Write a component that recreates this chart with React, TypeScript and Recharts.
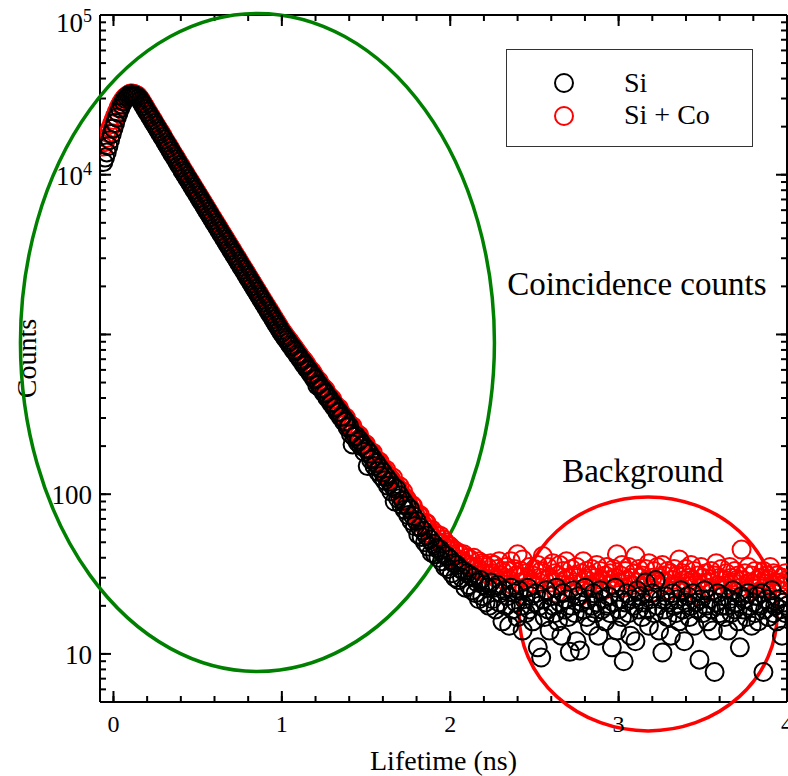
import { Legend, ReferenceDot, Scatter, ScatterChart, XAxis, YAxis } from 'recharts'

const FONT = '"Liberation Serif", "Times New Roman", serif'

// channel grid of the lifetime histogram (ns)
const T0 = -0.06
const DT = 0.01

const seriesNames = ['Si', 'Si + Co']
const seriesColors = ['#000000', '#ff0000']

// counts per channel (t = -0.06 ... 4.00)
const siCounts = [
  12000, 12800, 13800, 15100, 16500, 18000, 19500, 21100, 22800, 24400,
  26000, 27500, 28800, 29900, 30800, 31400, 31800, 31900, 31600, 31300,
  30900, 30100, 29200, 28000, 26900, 25800, 24800, 23800, 22900, 22000,
  21100, 20300, 19500, 18700, 18000, 17300, 16600, 15900, 15300, 14700,
  14100, 13500, 13000, 12500, 12000, 11500, 11100, 10600, 10200, 9830,
  9450, 9080, 8730, 8390, 8065, 7750, 7450, 7160, 6880, 6610,
  6350, 6110, 5870, 5640, 5420, 5210, 5005, 4810, 4620, 4440,
  4270, 4100, 3945, 3790, 3645, 3500, 3365, 3235, 3110, 2990,
  2870, 2760, 2650, 2550, 2450, 2355, 2262, 2175, 2090, 2010,
  1930, 1855, 1782, 1713, 1647, 1583, 1520, 1461, 1405, 1350,
  1297, 1247, 1198, 1151, 1107, 1064, 1022, 988, 955, 923,
  893, 858, 840, 801, 785, 748, 731, 700, 685, 652,
  640, 610, 598, 570, 560, 530, 524, 480, 488, 462,
  458, 432, 428, 402, 400, 376, 374, 352, 349, 326,
  327, 305, 306, 284, 286, 262, 266, 238, 205, 228,
  232, 212, 219, 200, 204, 184, 192, 150, 180, 164,
  168, 150, 157, 139, 146, 130, 137, 122, 128, 113,
  120, 104, 112, 90, 108, 94, 98, 86, 91, 80,
  85, 74, 81, 68, 73, 63, 68, 56, 62, 54,
  59, 50, 55, 47, 52, 43, 49, 42, 46, 40,
  45, 38, 42, 35, 41, 34, 39, 32, 37, 30,
  36, 29, 34, 30, 33, 26, 32, 27, 31, 25,
  30, 24, 28, 22, 29, 23, 27, 21, 26, 20,
  28, 22, 26, 19, 27, 21, 24, 16, 25, 20,
  23, 15, 26, 19, 24, 21, 17, 25, 20, 14,
  22, 18, 26, 19, 23, 16, 21, 24, 11, 20,
  9.5, 22, 17, 25, 19, 14, 23, 20, 18, 26,
  16, 21, 13, 24, 19, 22, 17, 10.3, 20, 25,
  18, 12, 23, 10.5, 21, 19, 26, 17, 22, 15,
  20, 24, 18, 21, 13, 25, 19, 22, 16, 20,
  23, 18, 11, 21, 26, 14, 19, 22, 17, 9,
  21, 24, 18, 13, 22, 20, 12, 25, 19, 23,
  17, 21, 28, 19, 15, 22, 24, 18, 29, 20,
  14, 22, 10.2, 19, 23, 17, 21, 13, 24, 20,
  18, 22, 16, 25, 19, 12, 21, 23, 17, 20,
  24, 15, 21, 19, 9.2, 22, 18, 25, 20, 16,
  22, 19, 14, 7.7, 21, 24, 18, 20, 23, 17,
  20, 14, 22, 18, 25, 19, 21, 16, 11, 23,
  19, 22, 17, 24, 20, 15, 21, 18, 23, 16,
  20, 24, 7.7, 19, 22, 17, 21, 25, 18, 20,
  16, 22, 19, 13, 21, 18, 20,
]

const siCoCounts = [
  15000, 16000, 17000, 18200, 19500, 20700, 22000, 23400, 24800, 26200,
  27500, 28700, 29800, 30600, 31200, 31800, 32200, 32300, 32100, 31800,
  31500, 30700, 29800, 28600, 27500, 26400, 25300, 24300, 23400, 22500,
  21600, 20700, 19900, 19100, 18400, 17700, 16900, 16200, 15600, 15000,
  14400, 13800, 13300, 12800, 12250, 11750, 11350, 10850, 10450, 10050,
  9650, 9280, 8920, 8580, 8250, 7930, 7620, 7320, 7030, 6760,
  6500, 6250, 6000, 5770, 5540, 5330, 5120, 4920, 4730, 4550,
  4370, 4200, 4040, 3880, 3730, 3590, 3450, 3310, 3185, 3060,
  2940, 2830, 2715, 2610, 2510, 2410, 2320, 2230, 2145, 2060,
  1980, 1905, 1830, 1760, 1690, 1625, 1560, 1500, 1445, 1390,
  1335, 1285, 1235, 1187, 1140, 1097, 1055, 1020, 985, 952,
  922, 896, 862, 838, 806, 782, 754, 730, 705, 688,
  665, 640, 612, 598, 583, 558, 536, 522, 510, 486,
  468, 460, 448, 425, 410, 402, 392, 370, 358, 350,
  345, 326, 312, 306, 302, 284, 274, 268, 266, 248,
  240, 236, 234, 214, 210, 208, 205, 190, 184, 182,
  182, 166, 162, 160, 160, 146, 143, 140, 142, 128,
  127, 124, 127, 113, 113, 108, 112, 100, 104, 94,
  94, 88, 83, 86, 84, 76, 72, 74, 74, 66,
  64, 66, 66, 60, 57, 60, 53, 57, 55, 50,
  55, 49, 52, 50, 46, 48, 47, 42, 45, 44,
  39, 43, 42, 38, 42, 37, 40, 36, 39, 35,
  40, 34, 35, 38, 33, 37, 36, 32, 35, 31,
  37, 32, 36, 30, 34, 38, 31, 33, 29, 35,
  33, 29, 38, 27, 34, 31, 42, 28, 33, 39,
  26, 32, 30, 35, 28, 31, 34, 27, 36, 30,
  33, 41, 29, 25, 35, 30, 28, 37, 32, 24,
  31, 36, 27, 33, 29, 38, 30, 26, 34, 31,
  28, 35, 30, 23, 32, 38, 29, 33, 27, 31,
  34, 26, 30, 36, 28, 33, 29, 25, 31, 35,
  29, 32, 27, 34, 30, 42, 28, 31, 36, 26,
  33, 29, 35, 30, 27, 32, 41, 28, 34, 30,
  31, 26, 34, 29, 37, 24, 30, 33, 28, 35,
  30, 27, 36, 31, 28, 33, 25, 32, 29, 34,
  27, 31, 39, 26, 32, 29, 34, 28, 30, 36,
  29, 33, 27, 31, 23, 35, 30, 28, 32, 26,
  28, 33, 25, 31, 37, 27, 30, 34, 26, 29,
  32, 27, 35, 30, 28, 33, 29, 31, 26, 45,
  29, 32, 24, 35, 28, 31, 26, 33, 29, 27,
  30, 28, 33, 26, 31, 29, 35, 27, 32, 28,
  31, 25, 28, 30, 27, 32, 29,
]

const xTicks = [0, 0.2, 0.4, 0.6, 0.8, 1, 1.2, 1.4, 1.6, 1.8, 2, 2.2, 2.4, 2.6, 2.8, 3, 3.2, 3.4, 3.6, 3.8, 4]
const xLabels = [0, 1, 2, 3, 4]

const yTicks = [
  6, 7, 8, 9, 10, 20, 30, 40, 50, 60, 70, 80, 90, 100, 200, 300, 400, 500, 600, 700, 800, 900,
  1000, 2000, 3000, 4000, 5000, 6000, 7000, 8000, 9000, 10000, 20000, 30000, 40000, 50000,
  60000, 70000, 80000, 90000, 100000,
]
const yMajor = [10, 100, 1000, 10000, 100000]
const yLabels = [
  { v: 10, text: '10', sup: '' },
  { v: 100, text: '100', sup: '' },
  { v: 10000, text: '10', sup: '4' },
  { v: 100000, text: '10', sup: '5' },
]

const X_DOMAIN = [-0.08, 4]
const Y_DOMAIN = [5, 100000]

const toPoints = (counts: number[]) =>
  counts.map((v, i) => ({ t: +(T0 + i * DT).toFixed(2), v }))

const siData = toPoints(siCounts)
const siCoData = toPoints(siCoCounts)

// inward ticks: built-in tick line gives the minor length, majors are extended here
const MINOR = 6
const MAJOR = 11
const TICK = -MINOR
const axisStroke = { stroke: '#000', strokeWidth: 2 }

function BottomTick({ x, y, payload }: any) {
  const ay = y + MINOR
  const major = xLabels.includes(payload.value)
  return (
    <g>
      {major && <line x1={x} x2={x} y1={ay} y2={ay - MAJOR} stroke="#000" strokeWidth={2} />}
      {major && (
        <text x={x} y={ay + 30} textAnchor="middle" fontSize={24} fontFamily={FONT} fill="#000">
          {payload.value}
        </text>
      )}
    </g>
  )
}

function TopTick({ x, y, payload }: any) {
  const ay = y - MINOR
  const major = xLabels.includes(payload.value)
  return <g>{major && <line x1={x} x2={x} y1={ay} y2={ay + MAJOR} stroke="#000" strokeWidth={2} />}</g>
}

function LeftTick({ x, y, payload }: any) {
  const ax = x - MINOR
  const major = yMajor.includes(payload.value)
  const lab = yLabels.find(l => l.v === payload.value)
  const yb = Math.max(y + 10, 32)
  return (
    <g>
      {major && <line x1={ax} x2={ax + MAJOR} y1={y} y2={y} stroke="#000" strokeWidth={2} />}
      {lab && (
        <text x={ax - 8} y={yb} textAnchor="end" fontSize={27} fontFamily={FONT} fill="#000">
          <tspan>{lab.text}</tspan>
          {lab.sup && (
            <tspan dy={-10} fontSize={18}>
              {lab.sup}
            </tspan>
          )}
        </text>
      )}
    </g>
  )
}

function RightTick({ x, y, payload }: any) {
  const ax = x + MINOR
  const major = yMajor.includes(payload.value)
  return <g>{major && <line x1={ax} x2={ax - MAJOR} y1={y} y2={y} stroke="#000" strokeWidth={2} />}</g>
}

const ring = (color: string) => (p: any) => (
  <circle cx={p.cx} cy={p.cy} r={9} fill="none" stroke={color} strokeWidth={2} />
)

function LegendBox() {
  return (
    <div style={{ width: 247, height: 98, boxSizing: 'border-box', border: '1px solid #333', background: '#fff' }}>
      <svg width={245} height={96}>
        {seriesNames.map((name, i) => (
          <g key={name}>
            <circle cx={57} cy={33 + i * 33} r={9} fill="none" stroke={seriesColors[i]} strokeWidth={2} />
            <text x={117} y={42 + i * 32} fontSize={28} fontFamily={FONT} fill="#000">
              {name}
            </text>
          </g>
        ))}
      </svg>
    </div>
  )
}

export default function App() {
  return (
    <div style={{ position: 'fixed', left: 0, top: 0, width: 788, height: 776, background: '#fff' }}>
      <ScatterChart width={788} height={776} margin={{ top: 14, right: 0, bottom: 0, left: 0 }}>
        <XAxis
          dataKey="t"
          type="number"
          domain={X_DOMAIN}
          allowDataOverflow
          ticks={xTicks}
          interval={0}
          height={74}
          stroke="#000"
          tickSize={TICK}
          tickMargin={0}
          tickLine={axisStroke}
          tick={<BottomTick />}
          axisLine={axisStroke}
          label={{
            value: 'Lifetime (ns)',
            content: (p: any) => (
              <text
                x={p.viewBox.x + p.viewBox.width / 2}
                y={p.viewBox.y + 68}
                textAnchor="middle"
                fontSize={28}
                fontFamily={FONT}
                fill="#000"
              >
                Lifetime (ns)
              </text>
            ),
          }}
        />
        <XAxis
          xAxisId="top"
          orientation="top"
          dataKey="t"
          type="number"
          domain={X_DOMAIN}
          allowDataOverflow
          ticks={xTicks}
          interval={0}
          height={1}
          stroke="#000"
          tickSize={TICK}
          tickMargin={0}
          tickLine={axisStroke}
          tick={<TopTick />}
          axisLine={axisStroke}
        />
        <YAxis
          dataKey="v"
          type="number"
          scale="log"
          domain={Y_DOMAIN}
          allowDataOverflow
          ticks={yTicks}
          interval={0}
          width={100}
          stroke="#000"
          tickSize={TICK}
          tickMargin={0}
          tickLine={axisStroke}
          tick={<LeftTick />}
          axisLine={axisStroke}
          label={{
            value: 'Counts',
            content: () => (
              <text x={36} y={358.5} transform="rotate(-90 36 358.5)" textAnchor="middle" fontSize={28} fontFamily={FONT} fill="#000">
                Counts
              </text>
            ),
          }}
        />
        <YAxis
          yAxisId="right"
          orientation="right"
          dataKey="v"
          type="number"
          scale="log"
          domain={Y_DOMAIN}
          allowDataOverflow
          ticks={yTicks}
          interval={0}
          width={1}
          stroke="#000"
          tickSize={TICK}
          tickMargin={0}
          tickLine={axisStroke}
          tick={<RightTick />}
          axisLine={axisStroke}
        />
        <ReferenceDot
          x={0.855}
          y={891}
          ifOverflow="visible"
          shape={(p: any) => (
            <ellipse cx={p.cx} cy={p.cy} rx={237} ry={329} fill="none" stroke="#008000" strokeWidth={3.5} />
          )}
        />
        <ReferenceDot
          x={3.175}
          y={17.8}
          ifOverflow="visible"
          shape={(p: any) => (
            <ellipse cx={p.cx} cy={p.cy} rx={129} ry={117} fill="none" stroke="#ff0000" strokeWidth={3.5} />
          )}
        />
        {/* carrier for the mirrored frame axes, draws nothing */}
        <Scatter
          xAxisId="top"
          yAxisId="right"
          data={siData.slice(0, 1)}
          dataKey="v"
          legendType="none"
          shape={() => <g />}
          isAnimationActive={false}
        />
        <Scatter name={seriesNames[1]} data={siCoData} dataKey="v" shape={ring(seriesColors[1])} isAnimationActive={false} />
        <Scatter name={seriesNames[0]} data={siData} dataKey="v" shape={ring(seriesColors[0])} isAnimationActive={false} />
        <ReferenceDot
          x={2.338}
          y={1754}
          ifOverflow="visible"
          shape={(p: any) => (
            <text x={p.cx} y={p.cy} fontSize={33} fontFamily={FONT} fill="#000">
              Coincidence counts
            </text>
          )}
        />
        <ReferenceDot
          x={2.665}
          y={119}
          ifOverflow="visible"
          shape={(p: any) => (
            <text x={p.cx} y={p.cy} fontSize={33} fontFamily={FONT} fill="#000">
              Background
            </text>
          )}
        />
        <Legend
          layout="vertical"
          align="center"
          verticalAlign="middle"
          content={() => <LegendBox />}
          wrapperStyle={{ left: 506, top: 49, width: 247, height: 98 }}
        />
      </ScatterChart>
    </div>
  )
}
